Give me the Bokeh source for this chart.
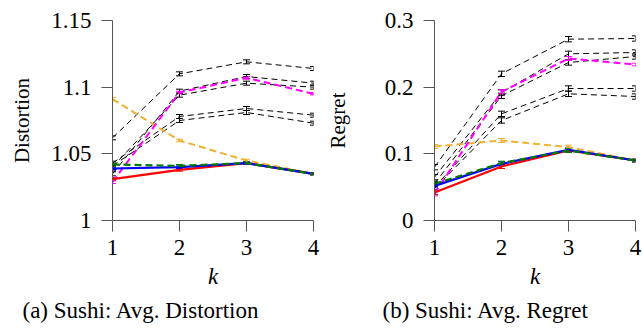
from bokeh.plotting import figure
from bokeh.models import Range1d, FixedTicker, Whisker, ColumnDataSource, Title, TeeHead
from bokeh.layouts import row
from bokeh.embed import file_html
from bokeh.resources import INLINE

K = [1, 2, 3, 4]

# (a) Average distortion
dist_black = [
    [1.062, 1.110, 1.119, 1.114],
    [1.035, 1.097, 1.108, 1.103],
    [1.040, 1.094, 1.103, 1.100],
    [1.043, 1.078, 1.084, 1.079],
    [1.041, 1.075, 1.081, 1.073],
]
dist_black_err = [0.0015, 0.0015, 0.0015, 0.0015]
dist_orange = [1.091, 1.060, 1.045, 1.035]
dist_magenta = [1.029, 1.096, 1.107, 1.095]
dist_red = [1.031, 1.038, 1.043, 1.035]
dist_blue = [1.039, 1.040, 1.043, 1.035]
dist_green = [1.042, 1.041, 1.043, 1.035]
dist_color_err = [0.0012, 0.0010, 0.0010, 0.0008]

# (b) Average regret
reg_black = [
    [0.080, 0.220, 0.272, 0.273],
    [0.065, 0.192, 0.250, 0.252],
    [0.055, 0.187, 0.237, 0.246],
    [0.050, 0.160, 0.198, 0.198],
    [0.048, 0.150, 0.190, 0.186],
]
reg_black_err = [0.004, 0.004, 0.004, 0.004]
reg_orange = [0.111, 0.120, 0.110, 0.090]
reg_magenta = [0.040, 0.193, 0.243, 0.234]
reg_red = [0.042, 0.081, 0.105, 0.090]
reg_blue = [0.052, 0.085, 0.106, 0.090]
reg_green = [0.055, 0.086, 0.105, 0.090]
reg_color_err = [0.003, 0.003, 0.003, 0.002]

dist_ticks = [1.0, 1.05, 1.1, 1.15]
dist_tick_labels = {1.0: "1", 1.05: "1.05", 1.1: "1.1", 1.15: "1.15"}
reg_ticks = [0.0, 0.1, 0.2, 0.3]
reg_tick_labels = {0.0: "0", 0.1: "0.1", 0.2: "0.2", 0.3: "0.3"}
k_labels = {1: "1", 2: "2", 3: "3", 4: "4"}

FONT = "Liberation Serif"
AX = "#555555"


def series(p, ys, errs, color, width, dash):
    lo = [y - e for y, e in zip(ys, errs)]
    hi = [y + e for y, e in zip(ys, errs)]
    src = ColumnDataSource(dict(x=K, y=ys, lo=lo, hi=hi))
    p.line("x", "y", source=src, line_color=color, line_width=width, line_dash=dash)
    w = Whisker(base="x", upper="hi", lower="lo", source=src, dimension="height",
                line_color=color, line_width=1,
                upper_head=TeeHead(size=7, line_color=color, line_width=1),
                lower_head=TeeHead(size=7, line_color=color, line_width=1))
    p.add_layout(w)


def make(ylo, yhi, ticks, tick_labels, ylabel, caption, black, berr, orange, magenta,
         red, blue, green, cerr, border_left, border_right, label_standoff, cap_offset):
    p = figure(width=border_left + 201 + border_right, height=329,
               x_range=Range1d(1, 4), y_range=Range1d(ylo, yhi),
               output_backend="svg", toolbar_location=None,
               min_border_left=border_left, min_border_right=border_right,
               min_border_top=20, min_border_bottom=4)
    p.frame_width = 201
    p.frame_height = 200
    p.xgrid.visible = False
    p.ygrid.visible = False
    p.outline_line_color = None
    p.background_fill_color = "white"

    for ys in black:
        series(p, ys, berr, "black", 1, "6 4")
    series(p, orange, cerr, "#f0b030", 2, "7 4")
    series(p, magenta, cerr, "#ff00ff", 2, "7 4")
    series(p, red, cerr, "#ff0000", 2.2, "solid")
    series(p, blue, cerr, "#0000ff", 2.2, "solid")
    series(p, green, cerr, "#007a00", 2.2, "7 4")

    for ax in (p.xaxis[0], p.yaxis[0]):
        ax.axis_line_color = AX
        ax.major_tick_line_color = AX
        ax.minor_tick_line_color = None
        ax.major_tick_out = 11
        ax.major_tick_in = 0
        ax.major_label_text_font = FONT
        ax.major_label_text_font_size = "23px"
        ax.major_label_text_color = "black"
        ax.axis_label_text_font = FONT
        ax.axis_label_text_font_size = "21px"
        ax.axis_label_text_color = "black"

    p.xaxis.ticker = FixedTicker(ticks=K)
    p.xaxis.major_label_overrides = k_labels
    p.xaxis.axis_label = "k"
    p.xaxis.axis_label_text_font_style = "italic"
    p.xaxis.axis_label_text_font_size = "23px"
    p.xaxis.major_label_standoff = 8
    p.xaxis.axis_label_standoff = 6

    p.yaxis.ticker = FixedTicker(ticks=ticks)
    p.yaxis.major_label_overrides = tick_labels
    p.yaxis.axis_label = ylabel
    p.yaxis.axis_label_text_font_style = "normal"
    p.yaxis.major_label_standoff = 10
    p.yaxis.axis_label_standoff = label_standoff

    t = Title(text=caption, align="left", offset=cap_offset, text_font=FONT,
              text_font_size="23px", text_font_style="normal", text_color="black",
              standoff=8)
    p.add_layout(t, "below")
    return p


p1 = make(1.0, 1.15, dist_ticks, dist_tick_labels, "Distortion", "(a) Sushi: Avg. Distortion",
          dist_black, dist_black_err, dist_orange, dist_magenta, dist_red, dist_blue,
          dist_green, dist_color_err, 112, 9, 14, -90)
p2 = make(0.0, 0.3, reg_ticks, reg_tick_labels, "Regret", "(b) Sushi: Avg. Regret",
          reg_black, reg_black_err, reg_orange, reg_magenta, reg_red, reg_blue,
          reg_green, reg_color_err, 112, 8, 32, -52)

layout = row(p1, p2, spacing=0)
open("out.html", "w").write(file_html(layout, INLINE))
